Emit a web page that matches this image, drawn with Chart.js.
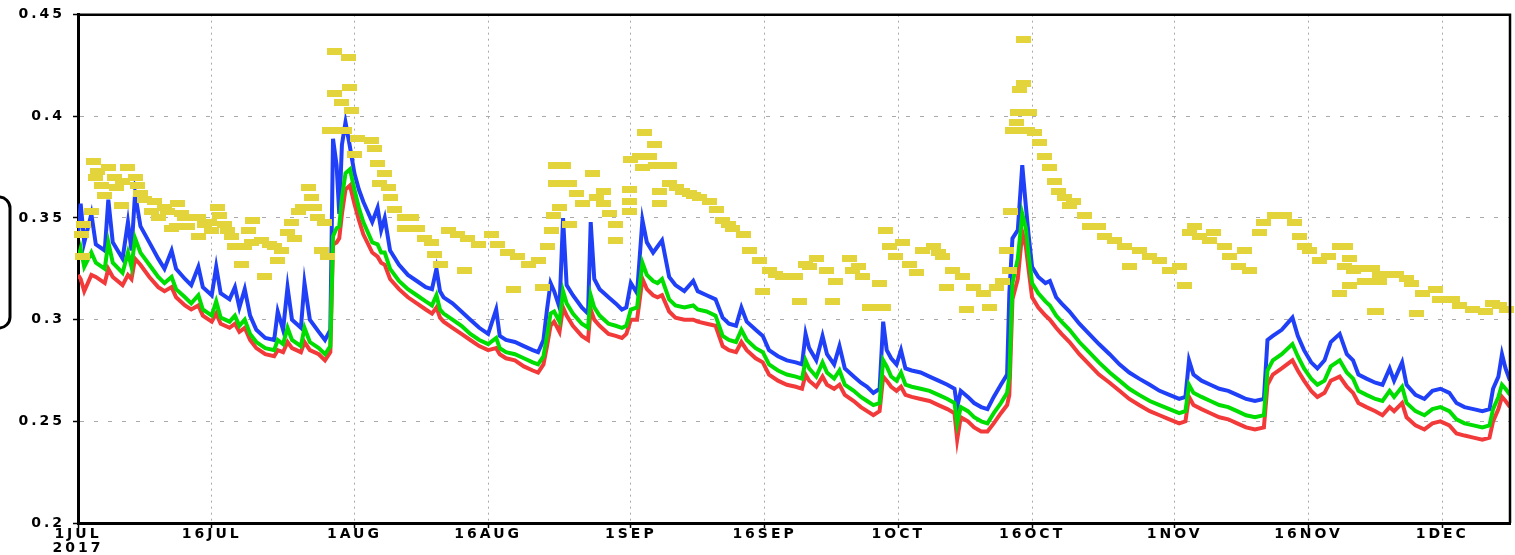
<!DOCTYPE html>
<html><head><meta charset="utf-8">
<script src="https://cdn.jsdelivr.net/npm/chart.js@4.4.1/dist/chart.umd.min.js"></script>
<style>html,body{margin:0;padding:0;background:#fff;overflow:hidden}#wrap{width:1515px;height:555px}</style>
</head><body><div id="wrap"><canvas id="c" width="1515" height="555"></canvas></div>
<script>
// ---- axis ticks (days since 1 JUL 2017) ----
const tickDays = [0,15,31,46,62,77,92,107,123,138,153];
const tickLabels = [['1JUL','2017'],'16JUL','1AUG','16AUG','1SEP','16SEP','1OCT','16OCT','1NOV','16NOV','1DEC'];
const yTicks = [0.2,0.25,0.3,0.35,0.4,0.45];
const yTickLabels = ['0.2','0.25','0.3','0.35','0.4','0.45'];
const xMaxDay = 160.6;

// ---- model series (blue, green, red) ----
const lineDays = [0,0.3,0.7,1.5,2,3,3.4,3.9,5,5.6,6,6.4,7,8,9,9.7,10.5,11,12,12.7,13.5,14,15,15.5,16,17,17.6,18.1,18.7,19.3,20,21,22,22.4,23,23.5,24,25,25.4,26,27,27.7,28.3,
28.6,29,29.3,29.6,30,30.5,31,31.5,32,33,33.6,34,34.4,35,36,37,38,39,39.7,40.2,40.6,41,42,43,44,45,46,46.9,47.3,48,49,50,51,51.6,52.2,52.6,53,53.4,
54,54.4,54.8,55.5,56.5,57.2,57.5,57.9,58.5,59.5,60.3,61,61.5,62,62.7,63.3,63.8,64.5,65,65.5,66.3,67,68,69,69.5,70.5,71.5,72.3,73,73.8,74.4,75,76,76.8,77.5,78.5,79.5,80.5,81.2,81.6,82,82.8,83.5,84,84.8,85.4,86,87,87.8,88.5,89.2,89.9,90.3,90.7,91.2,91.8,92.3,92.8,93.5,94.5,95.5,96.5,97.5,98.3,98.6,99,99.8,100.5,101.3,102,102.7,103.5,104.2,
104.45,104.8,105.4,105.9,106.3,106.6,107,107.7,108.5,109,109.7,110.3,111.2,112.3,113.4,114.5,115.7,116.8,117.9,119,120.2,121.3,122.4,123.5,124.2,124.6,125.1,126,127,128,129,130,131,132,133,133.4,134,135,136.2,136.8,137.5,138.3,139,139.8,140.5,141.5,142.3,143,143.6,144.5,145.5,146.3,147.1,147.6,148.5,149,150,151,151.9,152.8,153.8,154.6,155.5,156.5,157.5,158.3,158.7,159.3,159.7,160.1,160.6];

const modelBlue = [0.342,0.357,0.338,0.352,0.337,0.334,0.359,0.338,0.330,0.348,0.334,0.362,0.346,0.338,0.330,0.325,0.334,0.325,0.320,0.317,0.326,0.316,0.312,0.326,0.313,0.310,0.316,0.306,0.315,0.302,0.295,0.291,0.290,0.304,0.295,0.316,0.300,0.296,0.318,0.300,0.294,0.290,0.295,
0.389,0.376,0.352,0.386,0.397,0.385,0.372,0.364,0.358,0.348,0.355,0.344,0.350,0.334,0.327,0.322,0.319,0.316,0.315,0.325,0.314,0.311,0.308,0.304,0.300,0.296,0.293,0.305,0.292,0.290,0.289,0.287,0.285,0.284,0.290,0.305,0.318,0.314,
0.306,0.350,0.317,0.312,0.306,0.303,0.348,0.320,0.315,0.311,0.308,0.305,0.306,0.318,0.313,0.349,0.338,0.333,0.336,0.339,0.321,0.317,0.314,0.319,0.314,0.312,0.310,0.301,0.298,0.297,0.306,0.299,0.295,0.292,0.285,0.282,0.280,0.279,0.278,0.293,0.286,0.280,0.292,0.283,0.278,0.287,0.276,0.272,0.269,0.267,0.264,0.266,0.299,0.285,0.281,0.278,0.285,0.276,0.275,0.274,0.272,0.270,0.268,0.266,0.257,0.265,0.262,0.259,0.257,0.256,0.262,0.268,0.273,
0.313,0.340,0.344,0.376,0.356,0.342,0.326,0.321,0.318,0.319,0.311,0.308,0.304,0.298,0.293,0.288,0.283,0.278,0.274,0.271,0.268,0.265,0.263,0.261,0.262,0.280,0.273,0.270,0.268,0.266,0.265,0.263,0.261,0.260,0.261,0.290,0.292,0.295,0.301,0.292,0.285,0.279,0.276,0.280,0.289,0.293,0.283,0.280,0.273,0.271,0.269,0.268,0.276,0.270,0.279,0.268,0.263,0.261,0.265,0.266,0.264,0.259,0.257,0.256,0.255,0.256,0.266,0.272,0.283,0.276,0.270];

const modelGreen = [0.330,0.335,0.326,0.333,0.328,0.325,0.338,0.328,0.323,0.333,0.326,0.340,0.333,0.327,0.321,0.318,0.321,0.315,0.311,0.308,0.312,0.305,0.302,0.309,0.301,0.299,0.302,0.297,0.300,0.293,0.289,0.286,0.285,0.290,0.288,0.296,0.290,0.287,0.296,0.289,0.286,0.283,0.287,
0.341,0.345,0.346,0.360,0.372,0.374,0.364,0.355,0.348,0.338,0.337,0.333,0.333,0.325,0.319,0.315,0.312,0.309,0.307,0.312,0.305,0.303,0.300,0.297,0.293,0.290,0.288,0.291,0.286,0.284,0.283,0.281,0.279,0.278,0.282,0.292,0.303,0.304,
0.299,0.314,0.308,0.303,0.298,0.296,0.312,0.306,0.302,0.298,0.297,0.296,0.297,0.305,0.306,0.328,0.322,0.319,0.318,0.320,0.310,0.307,0.306,0.307,0.305,0.304,0.302,0.292,0.290,0.289,0.295,0.290,0.286,0.284,0.278,0.275,0.273,0.272,0.271,0.280,0.276,0.272,0.279,0.274,0.271,0.275,0.268,0.265,0.262,0.260,0.258,0.259,0.280,0.277,0.272,0.270,0.274,0.268,0.267,0.266,0.265,0.263,0.261,0.259,0.249,0.257,0.255,0.252,0.250,0.249,0.254,0.259,0.264,
0.272,0.318,0.330,0.352,0.345,0.332,0.318,0.313,0.309,0.307,0.302,0.299,0.295,0.289,0.284,0.279,0.274,0.270,0.266,0.263,0.260,0.258,0.256,0.254,0.255,0.268,0.264,0.262,0.260,0.258,0.257,0.255,0.253,0.252,0.253,0.275,0.280,0.283,0.288,0.282,0.276,0.271,0.268,0.270,0.277,0.280,0.274,0.271,0.265,0.263,0.261,0.260,0.265,0.262,0.267,0.259,0.255,0.253,0.256,0.257,0.255,0.251,0.249,0.248,0.247,0.248,0.256,0.262,0.268,0.266,0.263];

const modelRed = [0.322,0.320,0.314,0.322,0.321,0.318,0.325,0.321,0.317,0.322,0.320,0.330,0.327,0.321,0.316,0.314,0.316,0.311,0.307,0.305,0.307,0.302,0.299,0.303,0.298,0.296,0.298,0.294,0.296,0.290,0.286,0.283,0.282,0.285,0.284,0.289,0.286,0.284,0.289,0.285,0.283,0.280,0.284,
0.337,0.338,0.340,0.352,0.364,0.366,0.357,0.349,0.342,0.333,0.331,0.328,0.327,0.320,0.315,0.311,0.308,0.305,0.303,0.306,0.301,0.299,0.296,0.293,0.290,0.287,0.285,0.286,0.283,0.281,0.280,0.277,0.275,0.274,0.278,0.287,0.297,0.299,
0.294,0.306,0.302,0.297,0.292,0.290,0.305,0.300,0.297,0.293,0.292,0.291,0.293,0.300,0.300,0.320,0.315,0.312,0.311,0.312,0.304,0.301,0.300,0.300,0.299,0.298,0.297,0.287,0.285,0.284,0.289,0.285,0.281,0.279,0.273,0.270,0.268,0.267,0.266,0.273,0.270,0.267,0.272,0.268,0.266,0.268,0.263,0.260,0.257,0.255,0.253,0.255,0.272,0.270,0.267,0.265,0.267,0.263,0.262,0.261,0.260,0.258,0.256,0.254,0.241,0.252,0.250,0.247,0.245,0.245,0.249,0.254,0.258,
0.263,0.310,0.320,0.343,0.336,0.325,0.311,0.306,0.302,0.300,0.296,0.293,0.289,0.283,0.278,0.273,0.269,0.265,0.261,0.258,0.255,0.253,0.251,0.249,0.250,0.262,0.258,0.256,0.254,0.252,0.251,0.249,0.247,0.246,0.247,0.268,0.273,0.276,0.280,0.275,0.270,0.265,0.262,0.264,0.270,0.272,0.267,0.264,0.259,0.257,0.255,0.253,0.257,0.255,0.259,0.252,0.248,0.246,0.249,0.250,0.248,0.244,0.243,0.242,0.241,0.242,0.250,0.256,0.262,0.260,0.257];

// ---- observations (yellow dashes) ----
const obsDays = [1.7,2.2,3.4,5.6,4.1,6.4,2.6,4.3,6.7,3.0,4.9,7.5,1.5,0.6,0.4,0.5,8.6,9.7,11.2,8.2,10.0,11.6,13.5,10.5,12.3,14.2,13.5,15.7,15.9,16.4,15.0,17.2,19.1,19.6,17.6,18.7,20.6,22.0,22.8,18.3,20.9,22.4,23.5,23.9,24.7,25.8,26.2,26.5,26.9,27.7,27.3,28.0,
28.8,30.3,28.8,30.5,29.5,30.7,28.2,29.9,31.4,32.9,33.3,31.0,33.6,34.4,33.8,34.8,35.1,35.5,36.6,37.4,36.6,38.1,38.9,39.6,40.0,40.7,43.4,41.5,42.6,43.7,44.9,46.4,47.1,48.2,49.3,50.5,51.6,52.7,48.8,52.1,53.1,53.3,53.5,53.6,
2.0,5.0,7.0,9.0,12.0,14.8,16.8,19.5,21.5,11.0,24.3,25.2,
54.4,57.7,55.1,55.9,56.6,58.1,58.9,58.9,54.0,55.1,59.6,60.3,61.8,60.3,61.8,61.8,62.0,63.5,64.6,63.0,64.1,63.3,64.8,66.3,65.2,65.2,66.3,67.1,67.8,68.6,69.7,70.8,71.6,72.3,73.4,74.6,75.3,76.4,76.8,77.5,79.0,80.5,80.9,81.6,82.8,83.9,84.6,85.0,86.5,86.9,88.0,88.8,89.9,90.3,
90.6,91.0,91.7,92.5,93.2,94.0,94.7,95.9,97.0,97.4,98.1,99.2,100.4,99.6,101.5,102.2,103.0,103.7,104.5,104.1,104.6,104.8,105.2,105.4,105.6,106.0,106.0,106.5,
78.2,82.0,87.5,96.5,69.0,73.0,
106.7,107.3,107.8,108.4,109.0,109.5,110.0,110.6,111.2,111.7,112.9,113.4,114.5,115.1,116.2,117.4,117.9,119.0,120.2,121.3,122.4,123.5,124.1,124.6,125.2,125.8,126.9,127.4,128.6,129.1,130.2,130.8,131.4,132.5,133.0,134.2,135.3,136.4,137.0,137.5,138.1,139.2,140.3,141.5,142.0,143.1,142.6,144.3,145.4,146.0,
141.5,142.2,142.6,143.7,145.2,146.0,146.7,147.9,149.0,149.6,150.8,145.6,150.1,152.3,152.7,154.1,154.9,156.4,157.9,158.6,159.4,160.2];
const obsValues = [0.378,0.373,0.375,0.375,0.370,0.370,0.366,0.365,0.366,0.361,0.356,0.359,0.353,0.347,0.342,0.331,0.358,0.355,0.357,0.353,0.353,0.352,0.350,0.345,0.346,0.347,0.341,0.355,0.351,0.347,0.344,0.341,0.344,0.349,0.336,0.336,0.339,0.336,0.334,0.327,0.321,0.329,0.343,0.348,0.353,0.365,0.360,0.355,0.350,0.348,0.334,0.331,
0.432,0.429,0.411,0.414,0.407,0.403,0.393,0.393,0.389,0.388,0.384,0.381,0.377,0.372,0.367,0.365,0.360,0.354,0.350,0.350,0.345,0.345,0.340,0.338,0.332,0.327,0.324,0.344,0.342,0.340,0.337,0.342,0.337,0.333,0.331,0.327,0.329,0.336,0.315,0.316,0.344,0.351,0.367,0.376,
0.370,0.368,0.362,0.350,0.350,0.348,0.344,0.338,0.337,0.346,0.340,0.355,
0.376,0.372,0.367,0.362,0.357,0.360,0.363,0.357,0.355,0.347,0.352,0.347,0.353,0.339,0.364,0.358,0.379,0.392,0.386,0.380,0.380,0.375,0.376,0.376,0.363,0.357,0.367,0.365,0.363,0.362,0.360,0.358,0.354,0.349,0.345,0.342,0.334,0.329,0.314,0.324,0.321,0.321,0.309,0.327,0.330,0.324,0.309,0.319,0.330,0.324,0.321,0.306,0.318,0.306,
0.344,0.336,0.331,0.338,0.327,0.323,0.334,0.336,0.331,0.316,0.324,0.321,0.316,0.305,0.313,0.306,0.316,0.319,0.324,0.334,0.353,0.393,0.397,0.402,0.413,0.416,0.438,0.393,
0.322,0.326,0.326,0.333,0.361,0.347,
0.402,0.392,0.387,0.380,0.375,0.368,0.363,0.360,0.356,0.358,0.351,0.346,0.346,0.341,0.339,0.336,0.326,0.334,0.331,0.329,0.324,0.326,0.317,0.343,0.346,0.341,0.339,0.343,0.336,0.331,0.326,0.334,0.324,0.343,0.348,0.351,0.351,0.348,0.341,0.336,0.334,0.329,0.331,0.336,0.326,0.324,0.317,0.319,0.304,0.319,
0.313,0.336,0.330,0.325,0.325,0.322,0.322,0.322,0.320,0.318,0.313,0.304,0.303,0.315,0.310,0.310,0.307,0.305,0.304,0.308,0.307,0.305];

if (modelBlue.length !== lineDays.length || modelGreen.length !== lineDays.length || modelRed.length !== lineDays.length || obsDays.length !== obsValues.length) {
  console.error('length mismatch', lineDays.length, modelBlue.length, modelGreen.length, modelRed.length, obsDays.length, obsValues.length);
}

const toXY = (xs, ys) => xs.map((x, i) => ({x: x, y: ys[i]}));

// dash-shaped marker for the observations
const dash = document.createElement('canvas');
dash.width = 15; dash.height = 7;
(function(){ const g = dash.getContext('2d'); g.fillStyle = '#e4d43c'; g.fillRect(0,0,15,7); })();

const tickFont = {family: "'DejaVu Sans', 'Liberation Sans', sans-serif", size: 14, weight: 'bold', lineHeight: 0.95};

const framePlugin = {
  id: 'frame',
  beforeDraw(chart) { chart.ctx.letterSpacing = '3px'; },
  afterDraw(chart) {
    const {ctx, chartArea: a} = chart;
    ctx.save();
    ctx.letterSpacing = '0px';
    ctx.strokeStyle = '#000';
    ctx.lineWidth = 2.5;
    ctx.beginPath();
    ctx.moveTo(a.left, a.top); ctx.lineTo(a.right, a.top); ctx.lineTo(a.right, a.bottom);
    ctx.stroke();
    ctx.lineWidth = 3;
    ctx.beginPath();
    ctx.roundRect(-40, 197, 50, 131, 11);
    ctx.stroke();
    ctx.restore();
    ctx.letterSpacing = '0px';
  }
};

const lineStyle = {type: 'line', borderWidth: 4, pointRadius: 0, tension: 0, borderJoinStyle: 'miter'};

new Chart(document.getElementById('c'), {
  data: {
    datasets: [
      {type: 'scatter', label: 'obs', data: toXY(obsDays, obsValues), pointStyle: dash, showLine: false, clip: false},
      Object.assign({label: 'green', data: toXY(lineDays, modelGreen), borderColor: '#00dd00'}, lineStyle),
      Object.assign({label: 'red', data: toXY(lineDays, modelRed), borderColor: '#f23a3a'}, lineStyle),
      Object.assign({label: 'blue', data: toXY(lineDays, modelBlue), borderColor: '#2040f8'}, lineStyle)
    ]
  },
  options: {
    responsive: false,
    animation: false,
    devicePixelRatio: 1,
    events: [],
    layout: {padding: {top: 12, right: 4, left: 0, bottom: 0}},
    plugins: {legend: {display: false}, tooltip: {enabled: false}},
    scales: {
      x: {
        type: 'linear', min: 0, max: xMaxDay, offset: false,
        afterBuildTicks: s => { s.ticks = tickDays.map(v => ({value: v})); },
        afterFit: s => { s.height = 32; },
        ticks: {autoSkip: false, maxRotation: 0, padding: 0, color: '#000', font: tickFont,
          callback: v => { const i = tickDays.indexOf(v); return i >= 0 ? tickLabels[i] : ''; }},
        grid: {color: '#aaaaaa', lineWidth: 1, tickLength: 5, tickColor: '#000', tickWidth: 1.5, tickBorderDash: []},
        border: {display: true, color: '#000', width: 3, dash: [2, 4]}
      },
      y: {
        type: 'linear', min: 0.2, max: 0.45,
        afterBuildTicks: s => { s.ticks = yTicks.map(v => ({value: v})); },
        afterFit: s => { s.width = 78; },
        ticks: {padding: 8, color: '#000', font: tickFont,
          callback: v => { const i = yTicks.indexOf(v); return i >= 0 ? yTickLabels[i] : ''; }},
        grid: {color: '#aaaaaa', lineWidth: 1, tickLength: 5, tickColor: '#000', tickWidth: 1.5, tickBorderDash: []},
        border: {display: true, color: '#000', width: 3, dash: [4, 10]}
      }
    }
  },
  plugins: [framePlugin]
});
</script>
</body></html>
